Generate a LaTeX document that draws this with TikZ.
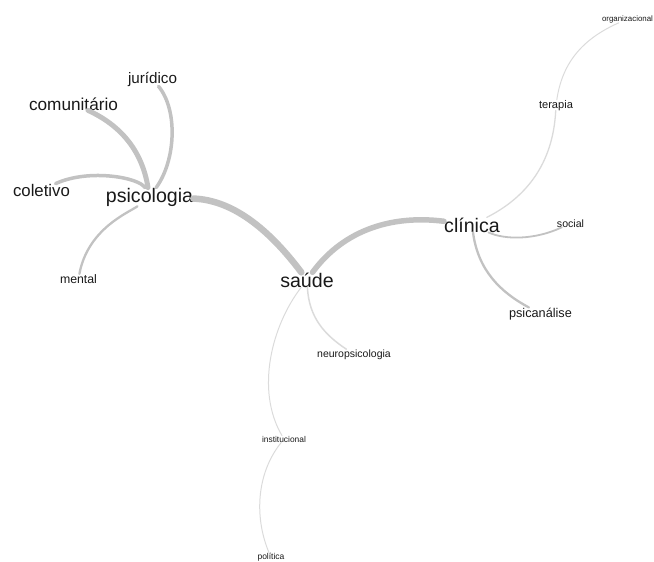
\documentclass[tikz,border=0pt]{standalone}
\usepackage{fontspec}
\setmainfont{Liberation Sans}

\tikzset{
  word/.style={inner sep=0pt, anchor=base, text=black!90, font=\fontsize{#1}{#1}\selectfont},
  link/.style={draw=black!24, line width=#1, line cap=round},
  faint/.style={draw=black!14, line width=#1, line cap=round},
}

\begin{document}
\begin{tikzpicture}[x=1pt, y=-1pt]
  \useasboundingbox (0,0) rectangle (654,562);
  \clip (0,0) rectangle (654,562);
  % hubs
  \node[word=19.6] (psico)   at (149.5,202) {psicologia};
  \node[word=19.6] (saude)   at (307,287)   {saúde};
  \node[word=19.6] (clinica) at (472,232)   {clínica};
  % psicologia side
  \node[word=17.2] (comun)  at (73.5,110)  {comunitário};
  \node[word=15.2] (jurid)  at (152.5,83)  {jurídico};
  \node[word=16.8] (colet)  at (41.5,196)  {coletivo};
  \node[word=12.3] (mental) at (78.5,283)  {mental};
  % clinica side
  \node[word=12.7] (psican) at (540.5,317) {psicanálise};
  \node[word=10.6] (social) at (570.5,227) {social};
  \node[word=11.1] (terap)  at (556,108)   {terapia};
  \node[word=7.9]  (organ)  at (627.5,21)  {organizacional};
  % saude side
  \node[word=10.5] (neuro)  at (354,357)   {neuropsicologia};
  \node[word=8.4]  (instit) at (284,442)   {institucional};
  \node[word=8.5]  (polit)  at (271,559.5) {política};

  % links between hubs
  \draw[link=6.5] (psico) .. controls (232,200) and (268,228) .. (saude);
  \draw[link=5.5] (saude) .. controls (345,228) and (395,215) .. (clinica);
  % links of psicologia
  \draw[link=5]   (psico) .. controls (142,150) and (120,125) .. (comun);
  \draw[link=3.5] (psico) .. controls (176,160) and (178,110) .. (jurid);
  \draw[link=3.5] (psico) .. controls (140,178) and (90,168) .. (colet);
  \draw[link=2.3] (psico) .. controls (130,212) and (88,228) .. (mental);
  % links of clinica
  \draw[link=2.3]  (clinica) .. controls (478,270) and (500,292) .. (psican);
  \draw[link=1.8]  (clinica) .. controls (505,240) and (535,240) .. (social);
  \draw[faint=1.3] (clinica) .. controls (525,198) and (553,165) .. (terap);
  \draw[faint=1]   (terap) .. controls (562,65) and (580,40) .. (organ);
  % links of saude
  \draw[faint=1.5] (saude) .. controls (309,318) and (325,335) .. (neuro);
  \draw[faint=1]   (saude) .. controls (272,325) and (255,390) .. (instit);
  \draw[faint=1]   (instit) .. controls (255,475) and (255,520) .. (polit);
\end{tikzpicture}
\end{document}
